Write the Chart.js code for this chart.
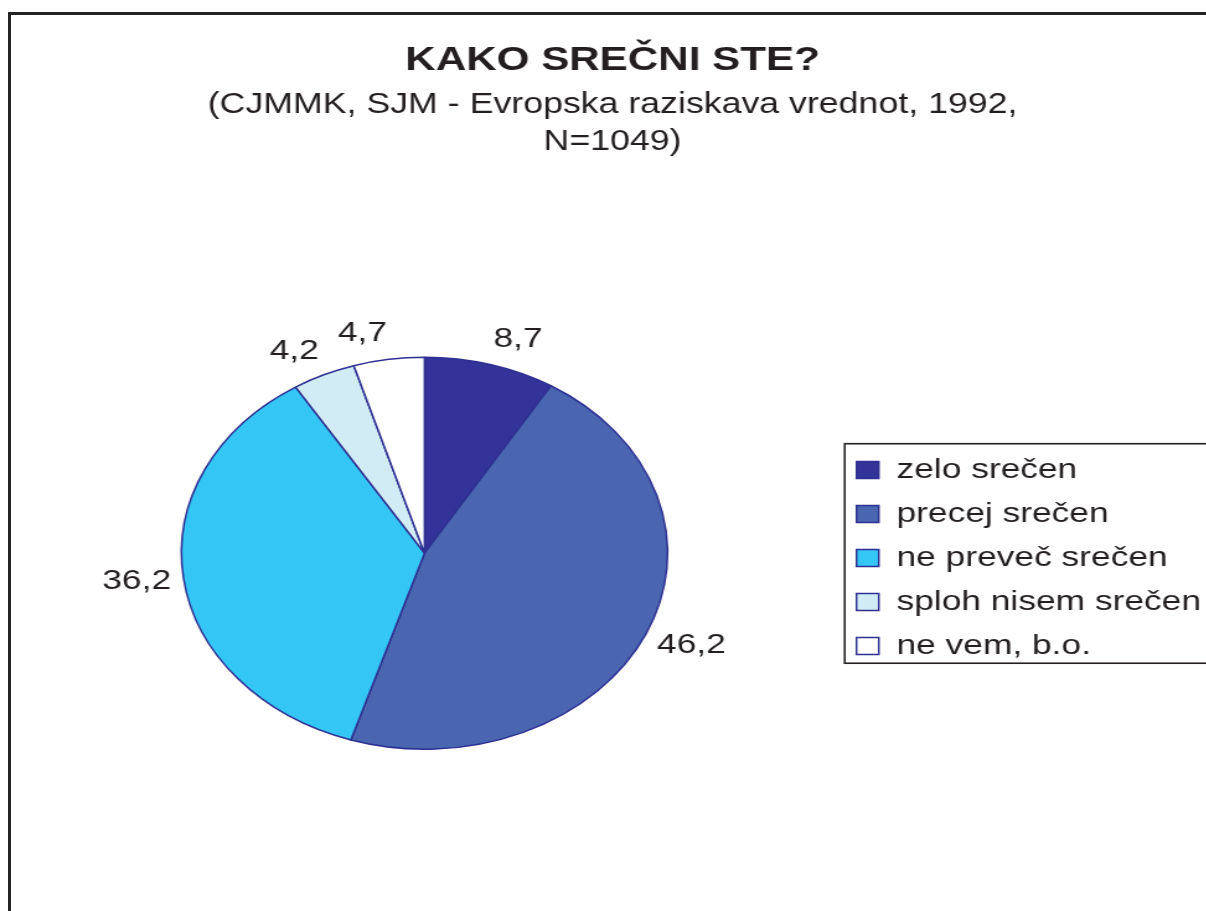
<!DOCTYPE html>
<html lang="sl">
<head>
<meta charset="utf-8">
<title>Kako srečni ste?</title>
<script src="https://cdn.jsdelivr.net/npm/chart.js@4.4.1/dist/chart.umd.min.js"></script>
<style>
  html, body { margin: 0; padding: 0; background: #fff; overflow: hidden; }
  body { width: 1206px; height: 911px; position: relative; }
  #frame { position: absolute; left: 8px; top: 12px; width: 1300px; height: 1000px; border: 3px solid #262324; }
  /* the original picture is stretched sideways, so the chart is too */
  #wrap { position: absolute; left: 0; top: 0; width: 980px; height: 911px; transform: scaleX(1.24); transform-origin: 0 0; }
</style>
</head>
<body>
<div id="frame"></div>
<div id="wrap"><canvas id="myChart" width="980" height="911"></canvas></div>
<script>
'use strict';
let titleText = 'KAKO SREČNI STE?';
let subtitleLines = ['(CJMMK, SJM - Evropska raziskava vrednot, 1992,', 'N=1049)'];
let categories = ['zelo srečen', 'precej srečen', 'ne preveč srečen', 'sploh nisem srečen', 'ne vem, b.o.'];
let shares = [8.7, 46.2, 36.2, 4.2, 4.7];
let sliceColors = ['#333399', '#4a66b0', '#34c6f4', '#d2ecf5', '#ffffff'];
let edgeColor = '#2e3192';
let inkColor = '#231f20';

Chart.defaults.font.family = '"Liberation Sans", Arial, sans-serif';

// numbers outside the slices
let sliceLabels = {
    id: 'sliceLabels',
    afterDatasetsDraw(chart) {
        let ctx = chart.ctx;
        let arcs = chart.getDatasetMeta(0).data;
        ctx.save();
        ctx.font = '28.5px "Liberation Sans", Arial, sans-serif';
        ctx.fillStyle = inkColor;
        ctx.textAlign = 'center';
        ctx.textBaseline = 'middle';
        arcs.forEach((arc, i) => {
            let p = arc.getProps(['x', 'y', 'startAngle', 'endAngle', 'outerRadius'], true);
            let mid = (p.startAngle + p.endAngle) / 2;
            let txt = shares[i].toFixed(1).replace('.', ',');
            let w = ctx.measureText(txt).width;
            let cos = Math.cos(mid);
            let sin = Math.sin(mid);
            let r = p.outerRadius + 10;
            ctx.fillText(txt, p.x + r * cos + Math.sign(cos) * w / 2, p.y + r * sin + sin * 16);
        });
        ctx.restore();
    }
};

// box round the legend
let legendFrame = {
    id: 'legendFrame',
    afterDraw(chart) {
        let lg = chart.legend;
        let hb = lg.legendHitBoxes;
        let last = hb[hb.length - 1];
        let top = hb[0].top - 12;
        let bottom = last.top + last.height + 3;
        let ctx = chart.ctx;
        ctx.save();
        ctx.strokeStyle = inkColor;
        ctx.lineWidth = 1.6;
        ctx.strokeRect(lg.left + 6, top, chart.width, bottom - top);
        ctx.restore();
    }
};

let ctx = document.getElementById('myChart').getContext('2d');
let myChart = new Chart(ctx, {
    type: 'pie',
    data: {
        labels: categories,
        datasets: [{
            data: shares,
            backgroundColor: sliceColors,
            borderColor: edgeColor,
            borderWidth: 1.5,
            radius: 196
        }]
    },
    options: {
        responsive: false,
        animation: false,
        events: [],
        layout: { padding: { left: 9.5, right: 1.5, top: 0, bottom: 2.6 } },
        plugins: {
            title: {
                display: true,
                text: titleText,
                color: inkColor,
                font: { size: 34, weight: 'bold' },
                padding: { top: 40, bottom: 1 }
            },
            subtitle: {
                display: true,
                text: subtitleLines,
                color: inkColor,
                font: { size: 28.8, lineHeight: 1.27 },
                padding: { top: 5, bottom: 38 }
            },
            legend: {
                position: 'right',
                fullSize: false,
                title: { display: true, text: '', font: { size: 8 }, padding: 0 },
                labels: {
                    color: inkColor,
                    font: { size: 28.5 },
                    boxWidth: 18,
                    boxHeight: 17,
                    padding: 15.5
                }
            },
            tooltip: { enabled: false }
        }
    },
    plugins: [sliceLabels, legendFrame]
});
</script>
</body>
</html>
